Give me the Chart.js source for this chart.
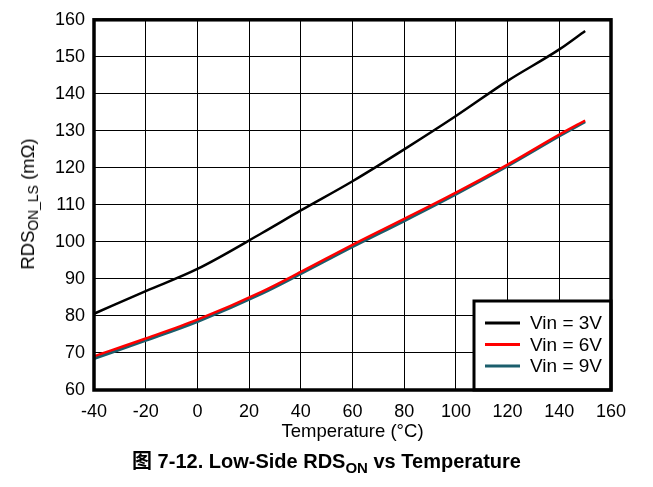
<!DOCTYPE html>
<html>
<head>
<meta charset="utf-8">
<script src="https://cdn.jsdelivr.net/npm/chart.js@4.4.0/dist/chart.umd.min.js"></script>
<style>
    body { margin: 0; background: #fff; }
    #wrap { position: relative; width: 653px; height: 487px; font-family: "Liberation Sans", Arial, sans-serif; }
    #chart { position: absolute; left: 0; top: 0; }
    #ylabel {
        position: absolute; left: 28px; top: 204px; white-space: nowrap;
        font-size: 18.5px; color: #000;
        transform: translate(-50%, -50%) rotate(-90deg);
    }
    #ylabel sub, #caption sub { font-size: 0.75em; vertical-align: -0.3em; line-height: 0; }
    #caption {
        position: absolute; left: 0; width: 653px; top: 448px; text-align: center;
        font-size: 20px; font-weight: bold; color: #000; white-space: nowrap; line-height: 24px;
    }
    #caption .cjk { font-family: "Noto Sans CJK SC", sans-serif; }
</style>
</head>
<body>
<div id="wrap">
    <canvas id="chart" width="653" height="487"></canvas>
    <div id="ylabel">RDS<sub>ON_LS</sub> (mΩ)</div>
    <div id="caption"><span class="cjk">图</span> 7-12. Low-Side RDS<sub>ON</sub> vs Temperature</div>
</div>
<script>
// temperatures (°C) where the curves were read
var temps = [-40, -20, 0, 25, 40, 60, 80, 100, 120, 140, 150];
// RDS_ON_LS in mOhm
var vin3 = [80.6, 86.7, 92.7, 102.4, 108.5, 116.4, 125.0, 134.0, 143.5, 152.0, 157.0];
var vin6 = [69.1, 73.9, 79.0, 86.6, 91.9, 99.2, 106.2, 113.3, 120.9, 129.0, 132.8];
var vin9 = [68.5, 73.4, 78.5, 86.1, 91.4, 98.7, 105.7, 112.9, 120.5, 128.6, 132.5];
var seriesLabels = ['Vin = 3V', 'Vin = 6V', 'Vin = 9V'];
var xTicks = [-40, -20, 0, 20, 40, 60, 80, 100, 120, 140, 160];
var yTicks = [60, 70, 80, 90, 100, 110, 120, 130, 140, 150, 160];

(function () {
    var font = '"Liberation Sans", Arial, sans-serif';

    function pts(values) {
        return temps.map(function (t, i) { return { x: t, y: values[i] }; });
    }

    // thick frame around plot + boxed legend in the lower right corner
    var framePlugin = {
        id: 'frame',
        afterDatasetsDraw: function (chart) {
            var ctx = chart.ctx, a = chart.chartArea;
            var ds = chart.data.datasets;
            var bx = 474, by = 301, bw = a.right - bx, bh = a.bottom - by;
            ctx.save();
            ctx.fillStyle = '#fff';
            ctx.fillRect(bx, by, bw, bh);
            ctx.lineWidth = 3;
            ctx.strokeStyle = '#000';
            ctx.strokeRect(bx, by, bw, bh);
            ctx.font = '19px ' + font;
            ctx.textBaseline = 'middle';
            ds.forEach(function (d, i) {
                var y = 323 + i * 21.5;
                ctx.beginPath();
                ctx.lineWidth = 3;
                ctx.strokeStyle = d.borderColor;
                ctx.moveTo(485, y);
                ctx.lineTo(520, y);
                ctx.stroke();
                ctx.fillStyle = '#000';
                ctx.fillText(d.label, 530, y + 1);
            });
            ctx.lineWidth = 3.5;
            ctx.strokeStyle = '#000';
            ctx.strokeRect(a.left, a.top, a.right - a.left, a.bottom - a.top);
            ctx.restore();
        }
    };

    new Chart(document.getElementById('chart'), {
        type: 'line',
        data: {
            datasets: [
                { label: seriesLabels[0], data: pts(vin3), borderColor: '#000000', borderWidth: 2.5 },
                { label: seriesLabels[1], data: pts(vin6), borderColor: '#FF0000', borderWidth: 2.5 },
                { label: seriesLabels[2], data: pts(vin9), borderColor: '#1B5E6C', borderWidth: 3 }
            ]
        },
        options: {
            responsive: false,
            animation: false,
            devicePixelRatio: 1,
            elements: { point: { radius: 0 }, line: { cubicInterpolationMode: 'monotone' } },
            layout: { padding: { left: 0, right: 42, top: 18, bottom: 44 } },
            plugins: { legend: { display: false }, tooltip: { enabled: false } },
            scales: {
                x: {
                    type: 'linear',
                    min: -40, max: 160,
                    afterBuildTicks: function (s) { s.ticks = xTicks.map(function (v) { return { value: v }; }); },
                    afterFit: function (s) { s.height = 53; },
                    ticks: { color: '#000', font: { family: font, size: 18 }, padding: 11 },
                    grid: { color: '#000', lineWidth: 1, drawTicks: false },
                    border: { display: false },
                    title: { display: true, text: 'Temperature (°C)', color: '#000', font: { family: font, size: 18.5 }, padding: { top: 0, bottom: 0 } }
                },
                y: {
                    min: 60, max: 160,
                    afterBuildTicks: function (s) { s.ticks = yTicks.map(function (v) { return { value: v }; }); },
                    afterFit: function (s) { s.width = 94; },
                    ticks: { color: '#000', font: { family: font, size: 18 }, padding: 9 },
                    grid: { color: '#000', lineWidth: 1, drawTicks: false },
                    border: { display: false }
                }
            }
        },
        plugins: [framePlugin]
    });
})();
</script>
</body>
</html>
